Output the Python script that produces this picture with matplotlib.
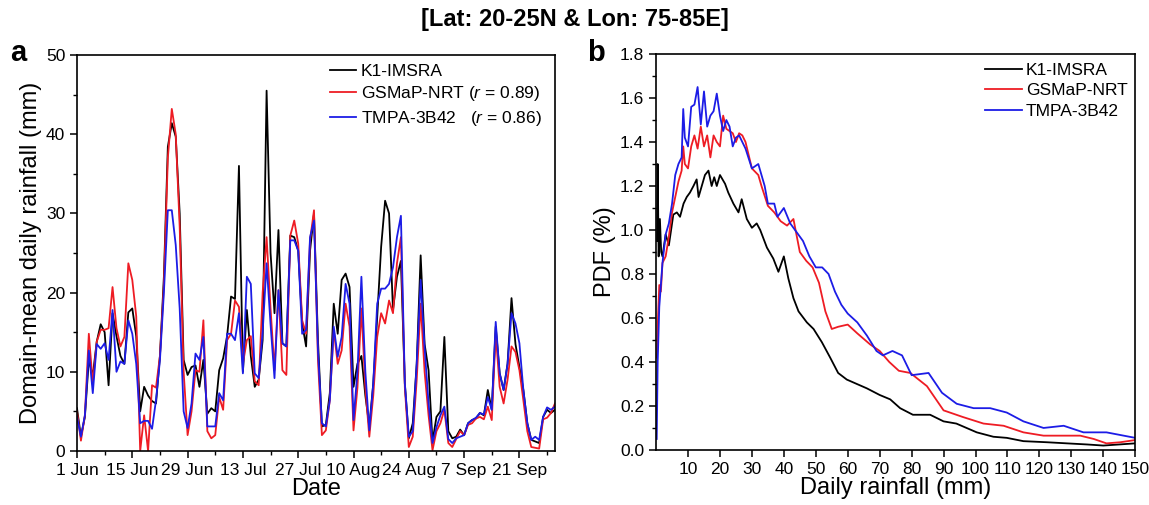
import matplotlib
matplotlib.use("Agg")
import matplotlib.pyplot as plt
import matplotlib.dates as mdates
import pandas as pd

plt.rcParams["font.family"] = ["Liberation Sans", "DejaVu Sans"]
plt.rcParams["mathtext.fontset"] = "custom"
plt.rcParams["mathtext.it"] = "Liberation Sans:italic"
plt.rcParams["mathtext.rm"] = "Liberation Sans"

# ---- panel a: domain-mean daily rainfall, 1 Jun - 30 Sep ----
START_DATE = "2010-06-01"
N_DAYS = 122

k1_daily = [
    5.4, 1.8, 4.3, 11.5, 9.5, 13.8, 16.0, 15.0, 8.3, 17.4,
    14.5, 12.0, 11.0, 17.5, 18.0, 14.5, 5.0, 8.1, 7.0, 6.3,
    6.0, 12.0, 22.0, 38.4, 41.4, 39.7, 30.0, 11.5, 9.6, 10.6,
    10.8, 8.1, 11.5, 4.7, 5.4, 5.0, 10.2, 11.7, 14.5, 19.5,
    19.2, 36.0, 10.0, 17.8, 12.0, 8.1, 9.0, 14.0, 45.5, 25.0,
    17.4, 27.9, 13.6, 13.2, 27.2, 27.0, 25.3, 16.1, 13.2, 25.3,
    30.0, 14.0, 3.1, 3.3, 7.3, 18.6, 14.8, 21.6, 22.4, 20.7,
    8.1, 11.0, 12.0, 7.0, 3.1, 8.5, 16.9, 25.8, 31.6, 30.0,
    17.8, 22.0, 24.0, 8.5, 1.6, 3.5, 11.0, 24.7, 13.5, 10.2,
    1.2, 4.3, 5.0, 14.4, 2.5, 1.6, 1.8, 2.7, 2.0, 3.5,
    3.9, 4.1, 4.8, 4.5, 7.7, 5.2, 15.7, 9.8, 7.7, 11.0,
    19.3, 13.5, 10.6, 7.7, 3.5, 1.4, 1.2, 1.0, 4.3, 5.2,
    4.8, 5.2,
]
gsmap_daily = [
    5.0, 1.3, 4.5, 14.8, 8.5, 13.8, 15.3, 15.3, 15.5, 20.7,
    15.5, 13.2, 14.4, 23.7, 21.6, 17.0, 0.0, 4.5, 0.0, 8.3,
    8.0, 12.0, 21.0, 37.0, 43.2, 40.0, 28.3, 10.0, 2.0, 5.0,
    10.2, 10.0, 16.5, 2.5, 1.6, 2.0, 6.8, 5.2, 14.0, 14.8,
    19.0, 18.2, 11.0, 14.0, 14.5, 8.8, 8.3, 20.0, 27.0, 18.0,
    10.2, 20.3, 10.2, 9.6, 27.2, 29.1, 26.2, 16.5, 14.8, 26.6,
    30.4, 11.5, 2.0, 2.6, 6.4, 15.3, 11.0, 12.7, 18.6, 15.7,
    2.6, 8.0, 18.0, 8.0, 1.8, 7.0, 14.4, 17.4, 16.1, 19.0,
    17.4, 23.7, 27.0, 8.0, 0.5, 1.8, 9.0, 18.6, 10.0, 4.5,
    0.1, 2.5, 3.5, 5.2, 1.0, 0.5, 1.5, 2.5, 2.0, 3.3,
    3.5, 4.1, 4.3, 4.0, 5.6, 3.9, 14.9, 8.1, 6.0, 9.0,
    13.2, 12.5, 10.2, 6.4, 2.5, 0.5, 0.4, 0.3, 4.0, 4.2,
    4.8, 6.0,
]
tmpa_daily = [
    4.3, 1.8, 4.5, 12.7, 7.3, 13.5, 12.9, 13.6, 11.5, 17.8,
    10.0, 11.3, 11.0, 16.5, 14.8, 11.0, 3.5, 3.8, 3.8, 2.8,
    6.4, 11.5, 20.0, 30.4, 30.4, 26.0, 18.0, 5.0, 2.9, 6.0,
    12.3, 11.5, 14.4, 3.1, 3.1, 3.1, 7.3, 6.4, 14.8, 14.8,
    14.0, 17.4, 9.8, 22.0, 21.1, 9.8, 9.2, 15.0, 23.7, 16.0,
    9.2, 20.3, 13.6, 13.2, 26.6, 26.6, 25.3, 14.8, 15.3, 27.0,
    29.1, 12.7, 3.5, 3.1, 6.4, 15.7, 11.9, 14.4, 21.1, 18.6,
    3.9, 10.0, 22.0, 10.0, 2.6, 8.5, 18.6, 20.5, 20.5, 21.1,
    23.2, 27.0, 29.7, 8.5, 1.8, 2.5, 11.0, 21.6, 13.0, 6.0,
    1.0, 3.0, 4.5, 5.6, 1.5, 1.0, 1.6, 1.8, 2.0, 3.5,
    3.9, 4.2, 4.8, 4.6, 6.8, 5.2, 16.3, 9.8, 7.7, 11.0,
    17.4, 16.1, 13.6, 7.7, 3.5, 1.4, 1.8, 1.4, 4.3, 5.5,
    5.2, 5.6,
]

# ---- panel b: PDF of daily rainfall ----
k1_pdf_x = [0.3, 0.5, 0.8, 1.2, 1.6, 2, 3, 4, 5.4, 6.5, 7.5, 8.6, 9.6, 10.6, 11.7,
            12.7, 13.3, 14.3, 15.3, 16.4, 17.4, 18.2, 19, 20, 21.6, 22.6, 24.2,
            25.8, 26.8, 28.4, 30, 31.5, 32.6, 34.7, 36.7, 38.3, 40, 41.4, 43,
            44.6, 47.2, 49.3, 51.9, 54.5, 57, 59.7, 66, 70, 73.3, 76.4, 80.4,
            85.8, 90, 94, 100.4, 105.6, 109.8, 115, 122.4, 128.6, 134.9, 140, 150]
k1_pdf = [0.95, 1.30, 0.88, 1.05, 0.90, 0.88, 0.98, 0.93, 1.07, 1.08, 1.06, 1.12,
          1.15, 1.17, 1.20, 1.23, 1.15, 1.20, 1.25, 1.27, 1.20, 1.24, 1.20, 1.25,
          1.21, 1.17, 1.12, 1.08, 1.14, 1.05, 1.01, 1.03, 1.00, 0.92, 0.87, 0.81,
          0.88, 0.78, 0.69, 0.63, 0.58, 0.55, 0.49, 0.42, 0.35, 0.32, 0.28, 0.25,
          0.23, 0.19, 0.16, 0.16, 0.13, 0.12, 0.08, 0.06, 0.055, 0.04, 0.035,
          0.03, 0.025, 0.02, 0.03]
gsmap_pdf_x = [0.3, 0.6, 1, 1.5, 2, 3, 4, 5, 6, 7, 8, 8.5, 9, 10, 11, 12, 13, 14,
               15, 16, 17, 18, 19, 20, 21, 22, 23, 24, 25, 26, 27, 28, 30, 32, 33,
               35, 37, 39, 41, 43, 45, 47, 49, 51, 53, 55, 57, 60, 63, 67, 70, 73,
               76, 79.6, 84.8, 90, 96, 102.5, 108.8, 115, 121.3, 126.5, 132.8, 137,
               141, 145.3, 150]
gsmap_pdf = [0.42, 0.6, 0.75, 0.72, 0.85, 0.88, 0.97, 1.08, 1.15, 1.22, 1.27, 1.38,
             1.30, 1.28, 1.38, 1.43, 1.37, 1.47, 1.38, 1.43, 1.33, 1.43, 1.40, 1.38,
             1.52, 1.46, 1.45, 1.44, 1.40, 1.44, 1.43, 1.40, 1.28, 1.25, 1.20, 1.11,
             1.08, 1.04, 1.02, 1.05, 0.90, 0.86, 0.83, 0.76, 0.63, 0.55, 0.56, 0.57,
             0.53, 0.48, 0.45, 0.40, 0.36, 0.35, 0.29, 0.18, 0.15, 0.12, 0.11, 0.08,
             0.065, 0.065, 0.065, 0.05, 0.03, 0.035, 0.045]
tmpa_pdf_x = [0.2, 0.5, 1, 1.5, 2, 3, 4, 5, 6, 7, 8, 8.5, 9, 10, 11, 12, 13, 14, 15,
              16, 17, 18, 19, 20, 21, 22, 23, 24, 25, 26, 28, 30, 32, 34, 35, 37,
              38, 40, 42, 44, 46, 48, 50, 52, 54, 56, 58, 60, 63, 66, 69, 71, 74,
              77, 80, 85.3, 89.5, 94.1, 99.4, 104.6, 109.8, 115, 121.3, 127.6,
              133.8, 141, 150]
tmpa_pdf = [0.05, 0.4, 0.65, 0.75, 0.85, 0.98, 1.03, 1.12, 1.25, 1.30, 1.33, 1.55,
            1.42, 1.38, 1.56, 1.57, 1.65, 1.48, 1.63, 1.47, 1.52, 1.54, 1.62, 1.52,
            1.45, 1.50, 1.47, 1.38, 1.42, 1.43, 1.37, 1.28, 1.30, 1.20, 1.12, 1.12,
            1.06, 1.10, 1.03, 0.99, 0.95, 0.88, 0.83, 0.83, 0.80, 0.72, 0.66, 0.62,
            0.58, 0.52, 0.45, 0.43, 0.45, 0.43, 0.34, 0.35, 0.26, 0.21, 0.19, 0.19,
            0.17, 0.13, 0.10, 0.11, 0.08, 0.08, 0.055]

labels_a = ["K1-IMSRA", "GSMaP-NRT ($r$ = 0.89)", "TMPA-3B42   ($r$ = 0.86)"]
labels_b = ["K1-IMSRA", "GSMaP-NRT", "TMPA-3B42"]
colors = ["#000000", "#ee1c24", "#1c1ce6"]

LW = 1.3
TICK_FS = 12.5
LABEL_FS = 17


def style_axis(ax):
    for spine in ax.spines.values():
        spine.set_linewidth(1.2)
    ax.tick_params(which="major", direction="out", length=5, width=1.1,
                   labelsize=TICK_FS, top=False, right=False)
    ax.tick_params(which="minor", direction="out", length=3, width=1.0,
                   top=False, right=False)


fig = plt.figure(figsize=(11.49, 5.05), dpi=100)
ax_a = fig.add_axes([0.067, 0.107, 0.416, 0.784])
ax_b = fig.add_axes([0.571, 0.109, 0.417, 0.784])

# panel a
dates = pd.date_range(START_DATE, periods=N_DAYS, freq="D")
for series, label, color in zip([k1_daily, gsmap_daily, tmpa_daily], labels_a, colors):
    ax_a.plot(dates, series, color=color, lw=LW, label=label)
ax_a.set_xlim(dates[0], dates[-1])
ax_a.set_ylim(0, 50)
ax_a.set_yticks(range(0, 51, 10))
ax_a.set_yticks(range(5, 50, 10), minor=True)
ax_a.set_xticks(pd.date_range(dates[0], dates[-1], freq="14D"))
ax_a.set_xticks(pd.date_range(dates[7], dates[-1], freq="14D"), minor=True)
ax_a.xaxis.set_major_formatter(mdates.DateFormatter("%-d %b"))
ax_a.set_xlabel("Date", fontsize=LABEL_FS, labelpad=0)
ax_a.set_ylabel("Domain-mean daily rainfall (mm)", fontsize=LABEL_FS, labelpad=3)
style_axis(ax_a)
ax_a.legend(loc="upper left", bbox_to_anchor=(0.53, 0.978), frameon=False,
            fontsize=12.5, handlelength=1.5, handletextpad=0.25,
            labelspacing=0.32, borderpad=0, borderaxespad=0)

# panel b
for xs, ys, label, color in zip([k1_pdf_x, gsmap_pdf_x, tmpa_pdf_x],
                                [k1_pdf, gsmap_pdf, tmpa_pdf], labels_b, colors):
    ax_b.plot(xs, ys, color=color, lw=LW, label=label)
ax_b.set_xlim(0, 150)
ax_b.set_ylim(0, 1.8)
ax_b.set_xticks(range(10, 151, 10))
ax_b.set_yticks([i * 0.2 for i in range(10)])
ax_b.set_yticks([0.1 + i * 0.2 for i in range(9)], minor=True)
ax_b.yaxis.set_major_formatter(plt.FormatStrFormatter("%.1f"))
ax_b.set_xlabel("Daily rainfall (mm)", fontsize=LABEL_FS, labelpad=0)
ax_b.set_ylabel("PDF (%)", fontsize=LABEL_FS, labelpad=3)
style_axis(ax_b)
ax_b.legend(loc="upper left", bbox_to_anchor=(0.687, 0.978), frameon=False,
            fontsize=12.5, handlelength=2.1, handletextpad=0.25,
            labelspacing=0.3, borderpad=0, borderaxespad=0)

# titles and panel letters
fig.text(0.5, 0.962, "[Lat: 20-25N & Lon: 75-85E]", ha="center", va="center",
         fontsize=17, fontweight="bold")
fig.text(0.009, 0.895, "a", fontsize=21, fontweight="bold", va="center")
fig.text(0.511, 0.895, "b", fontsize=21, fontweight="bold", va="center")

fig.savefig("out.png", dpi=100)
